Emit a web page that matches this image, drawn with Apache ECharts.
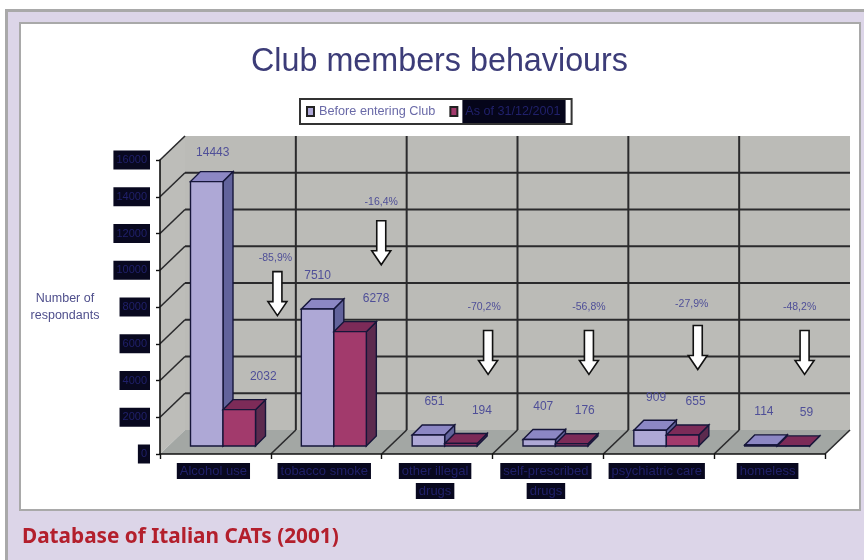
<!DOCTYPE html>
<html>
<head>
<meta charset="utf-8">
<style>html,body{margin:0;padding:0;background:#fff}#c{width:864px;height:560px}</style>
<script src="https://cdn.jsdelivr.net/npm/echarts@6/dist/echarts.min.js"></script>
</head>
<body>
<div id="c"></div>
<script>
var categories = ['Alcohol use', 'tobacco smoke', 'other illegal\ndrugs', 'self-prescribed\ndrugs', 'psychiatric care', 'homeless'];
var seriesNames = ['Before entering Club', 'As of 31/12/2001'];
var beforeValues = [14443, 7510, 651, 407, 909, 114];
var afterValues = [2032, 6278, 194, 176, 655, 59];
var changeLabels = ['-85,9%', '-16,4%', '-70,2%', '-56,8%', '-27,9%', '-48,2%'];
var arrowTipValues = [7530, 10300, 4330, 4330, 4600, 4330];
var yTicks = [0, 2000, 4000, 6000, 8000, 10000, 12000, 14000, 16000];

var NAVY = '#1f1f66', SOFT = '#4f4f98', LINE = '#2a2a2c';
var WALL_DX = 25, WALL_DY = 24, BAR_DEPTH = 10, FLOOR_INSET = 8, BAR_W = 32.5, BAR_GAP = 30.5;
var beforeDx = [6, 0, 6, 4, 6, 3], afterDx = [24, 26, 21, 13, 13, 13], beforeDy = [4, 0, 0, 0, 0, 0];
var arrowDx = [62, 55, 51, 41, 39, 35], changeDx = [-2, 0, -4, 0, -6, -5], changeDy = [14, 19, 23, 23, 21, 23];

function poly(pts, fill, stroke, w) {
  return {type: 'polygon', shape: {points: pts}, style: {fill: fill, stroke: stroke || null, lineWidth: w || 0}};
}
function seg(a, b, w, color) {
  return {type: 'line', shape: {x1: a[0], y1: a[1], x2: b[0], y2: b[1]}, style: {stroke: color || LINE, lineWidth: w}};
}

function renderWalls(params, api) {
  var o = api.coord([0, 0]), band = api.size([1, 0])[0];
  var left = o[0] - band / 2, right = left + band * categories.length;
  var top = api.coord([0, 16000])[1], bot = o[1], dx = WALL_DX, dy = WALL_DY;
  var kids = [
    poly([[left + dx, top - dy], [right + dx, top - dy], [right + dx, bot - dy], [left + dx, bot - dy]], '#bbbbb7'),
    poly([[left, top], [left + dx, top - dy], [left + dx, bot - dy], [left, bot]], '#bdbdb9'),
    poly([[left, bot], [left + dx, bot - dy], [right + dx, bot - dy], [right, bot]], '#a3a7a4')
  ];
  yTicks.forEach(function (t) {
    var y = api.coord([0, t])[1];
    if (t > 0) {
      if (t < 16000) kids.push(seg([left + dx, y - dy], [right + dx, y - dy], 2));
      kids.push(seg([left, y], [left + dx, y - dy], 1.6));
    }
  });
  for (var i = 1; i < categories.length; i++) {
    var x = left + band * i;
    kids.push(seg([x + dx, top - dy], [x + dx, bot - dy], 2));
    kids.push(seg([x, bot], [x + dx, bot - dy], 1.6));
  }
  kids.push(seg([right, bot], [right + dx, bot - dy], 1.6));
  return {type: 'group', children: kids};
}

function barRenderer(slot, front, side, cap, dx, dyList) {
  return function (params, api) {
    var i = api.value(0), v = api.value(1);
    var o = api.coord([i, 0]), t = api.coord([i, v]), band = api.size([1, 0])[0];
    var x0 = o[0] - band / 2 + BAR_GAP + slot * BAR_W, x1 = x0 + BAR_W;
    var yb = o[1] - FLOOR_INSET, yt = t[1] - FLOOR_INSET + 1, d = BAR_DEPTH, e = '#16163a';
    return {type: 'group', children: [
      poly([[x1, yb], [x1 + d, yb - d], [x1 + d, yt - d], [x1, yt]], side, e, 1.4),
      poly([[x0, yt], [x0 + d, yt - d], [x1 + d, yt - d], [x1, yt]], cap, e, 1.4),
      poly([[x0, yb], [x1, yb], [x1, yt], [x0, yt]], front, e, 1.4),
      {type: 'text', z2: 20, style: {text: String(v), x: (x0 + x1) / 2 + dx[i], y: yt - 33 + (dyList ? dyList[i] : 0),
        align: 'center', verticalAlign: 'middle', fill: SOFT, font: '12px "Liberation Sans"'}}
    ]};
  };
}

function renderArrow(params, api) {
  var i = api.value(0), o = api.coord([i, api.value(1)]), x = o[0] + arrowDx[i], y = o[1];
  return {type: 'group', children: [
    poly([[x - 4.5, y - 44], [x + 4.5, y - 44], [x + 4.5, y - 14], [x + 9.5, y - 14], [x, y],
          [x - 9.5, y - 14], [x - 4.5, y - 14]], '#ffffff', '#111', 1.6),
    {type: 'text', style: {text: changeLabels[i], x: x + changeDx[i], y: y - 44 - changeDy[i],
      align: 'center', verticalAlign: 'middle', fill: SOFT, font: '10.5px "Liberation Sans"'}}
  ]};
}

var boxLabel = {backgroundColor: '#08081f', color: '#20206a', padding: [3, 3, 3, 3],
  fontFamily: 'Liberation Sans', fontSize: 11, lineHeight: 13};

var chart = echarts.init(document.getElementById('c'), null, {renderer: 'canvas'});
chart.setOption({
  animation: false,
  backgroundColor: '#ffffff',
  title: [
    {text: 'Club members behaviours', left: 434.5, top: 41, textAlign: 'center',
     textStyle: {fontFamily: 'Liberation Sans', fontWeight: 'normal', fontSize: 32.3, color: '#3c3c78'}},
    {text: 'Database of Italian CATs (2001)', left: 17, top: 522,
     textStyle: {fontFamily: 'Noto Sans', fontWeight: 'bold', fontSize: 20.75, color: '#b31f2c'}}
  ],
  legend: {
    left: 300, top: 99, padding: [1, 6, 1, 6], itemGap: 14, itemWidth: 7, itemHeight: 9,
    backgroundColor: '#ffffff', borderColor: '#333', borderWidth: 2,
    icon: 'rect', selectedMode: false,
    data: [
      {name: seriesNames[0], textStyle: {color: '#6a6aa8', fontFamily: 'Liberation Sans', fontSize: 12.7}},
      {name: seriesNames[1], textStyle: {color: '#20206a', backgroundColor: '#05051a', fontFamily: 'Liberation Sans', fontSize: 12.6, padding: [5, 5, 5, 3]}}
    ]
  },
  grid: {left: 160, top: 160, width: 665, height: 294, containLabel: false},
  xAxis: {
    type: 'category', data: categories, boundaryGap: true,
    axisLine: {lineStyle: {color: '#111', width: 1.6}},
    axisTick: {show: true, alignWithLabel: false, length: 5, lineStyle: {color: '#111', width: 1.4}},
    axisLabel: {interval: 0, margin: 7, color: '#20206a', padding: [0, 4, 0, 0],
      formatter: function (v) { return v.split('\n').map(function (s) { return '{b|' + s + '}'; }).join('\n'); },
      rich: {b: Object.assign({}, boxLabel, {fontSize: 13, lineHeight: 20, padding: [2, 3, 1, 3]})}},
    z: 5
  },
  yAxis: {
    type: 'value', min: 0, max: 16000, interval: 2000,
    name: 'Number of\nrespondants', nameLocation: 'middle', nameRotate: 0, nameGap: 95,
    nameTextStyle: {color: '#4f4f8c', fontFamily: 'Liberation Sans', fontSize: 12.5, lineHeight: 17, align: 'center'},
    axisLine: {show: true, lineStyle: {color: '#111', width: 1.6}},
    axisTick: {show: true, length: 4, lineStyle: {color: '#111', width: 1.4}},
    splitLine: {show: false},
    axisLabel: Object.assign({}, boxLabel, {margin: 10, formatter: function (v) { return String(v); }}),
    z: 5
  },
  series: [
    {type: 'custom', name: 'walls', silent: true, z: 1, data: [[0, 0]], renderItem: renderWalls, encode: {x: 0, y: 1}},
    {type: 'custom', name: seriesNames[0], z: 2, itemStyle: {color: '#aea8d6', borderColor: '#222', borderWidth: 1},
     data: beforeValues.map(function (v, i) { return [i, v]; }), encode: {x: 0, y: 1},
     renderItem: barRenderer(0, '#aea8d6', '#62639c', '#8c87c4', beforeDx, beforeDy)},
    {type: 'custom', name: seriesNames[1], z: 3, itemStyle: {color: '#a23a6c', borderColor: '#222', borderWidth: 1},
     data: afterValues.map(function (v, i) { return [i, v]; }), encode: {x: 0, y: 1},
     renderItem: barRenderer(1, '#a23a6c', '#5c2a4e', '#7c2b58', afterDx)},
    {type: 'custom', name: 'change', silent: true, z: 4, data: arrowTipValues.map(function (v, i) { return [i, v]; }),
     encode: {x: 0, y: 1}, renderItem: renderArrow}
  ],
  graphic: [
    {type: 'rect', z: -10, silent: true, shape: {x: 5, y: 9, width: 859, height: 551}, style: {fill: '#dcd5e8'}},
    {type: 'rect', z: -10, silent: true, shape: {x: 5, y: 9, width: 859, height: 3}, style: {fill: '#a9a9a9'}},
    {type: 'rect', z: -10, silent: true, shape: {x: 5, y: 9, width: 3, height: 551}, style: {fill: '#a9a9a9'}},
    {type: 'rect', z: -10, silent: true, shape: {x: 20, y: 23, width: 840, height: 487}, style: {fill: '#ffffff', stroke: '#a9a9a9', lineWidth: 2}}
  ]
});
</script>
</body>
</html>
